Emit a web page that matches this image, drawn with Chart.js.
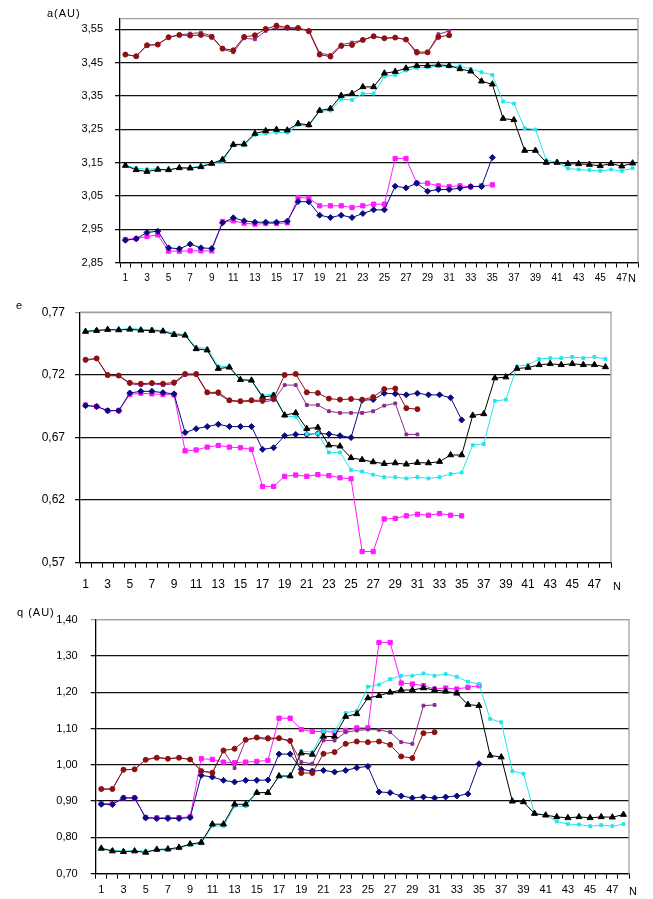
<!DOCTYPE html>
<html>
<head>
<meta charset="utf-8">
<script src="https://cdn.jsdelivr.net/npm/chart.js@4.4.1/dist/chart.umd.min.js"></script>
<style>
  html, body { margin: 0; padding: 0; background: #fff; }
  body { width: 653px; height: 899px; position: relative; overflow: hidden;
         font-family: 'Liberation Sans', Arial, sans-serif; }
  .panel { position: absolute; left: 0; width: 653px; }
  .lbl { position: absolute; font-size: 11px; color: #000; line-height: 12px;
         letter-spacing: 1px; white-space: nowrap; }
</style>
</head>
<body>
<div class="panel" style="top:0;height:295px"><canvas id="chartA"></canvas></div>
<div class="panel" style="top:295px;height:305px"><canvas id="chartE"></canvas></div>
<div class="panel" style="top:600px;height:299px"><canvas id="chartQ"></canvas></div>

<div class="lbl" style="left:47px;top:7px">a(AU)</div>
<div class="lbl" style="left:628px;top:272px">N</div>
<div class="lbl" style="left:16px;top:299px">e</div>
<div class="lbl" style="left:613px;top:580px">N</div>
<div class="lbl" style="left:17px;top:606px">q (AU)</div>
<div class="lbl" style="left:629px;top:885px">N</div>

<script>
// orbit number, shared by the three panels
const categories = [1, 2, 3, 4, 5, 6, 7, 8, 9, 10, 11, 12, 13, 14, 15, 16,
  17, 18, 19, 20, 21, 22, 23, 24, 25, 26, 27, 28, 29, 30, 31, 32, 33, 34, 35,
  36, 37, 38, 39, 40, 41, 42, 43, 44, 45, 46, 47, 48];

// y tick labels
const aTicks = [2.85, 2.95, 3.05, 3.15, 3.25, 3.35, 3.45, 3.55];
const eTicks = [0.57, 0.62, 0.67, 0.72, 0.77];
const qTicks = [0.7, 0.8, 0.9, 1.0, 1.1, 1.2, 1.3, 1.4];

// a (AU)
const aRed = [3.474, 3.469, 3.502, 3.504, 3.526, 3.533, 3.531, 3.533, 3.527, 3.492,
  3.487, 3.527, 3.532, 3.551, 3.561, 3.555, 3.554, 3.544, 3.474, 3.468, 3.500, 3.503,
  3.518, 3.529, 3.523, 3.525, 3.519, 3.482, 3.481, 3.527, 3.532];
const aPurple = [3.474, 3.469, 3.502, 3.505, 3.526, 3.533, 3.537, 3.540, 3.530, 3.490,
  3.481, 3.523, 3.520, 3.545, 3.555, 3.552, 3.552, 3.547, 3.478, 3.473, 3.504, 3.510,
  3.518, 3.528, 3.523, 3.525, 3.519, 3.477, 3.479, 3.535, 3.545];
const aBlack = [3.141, 3.128, 3.123, 3.129, 3.128, 3.134, 3.133, 3.137, 3.147, 3.159,
  3.204, 3.205, 3.237, 3.245, 3.249, 3.247, 3.267, 3.263, 3.306, 3.312, 3.351, 3.357,
  3.377, 3.377, 3.418, 3.423, 3.433, 3.441, 3.441, 3.443, 3.441, 3.431, 3.424, 3.394,
  3.385, 3.282, 3.278, 3.186, 3.186, 3.150, 3.150, 3.146, 3.146, 3.144, 3.140, 3.147,
  3.139, 3.148];
const aCyan = [3.142, 3.133, 3.130, 3.132, 3.127, 3.135, 3.135, 3.139, 3.149, 3.153,
  3.202, 3.202, 3.233, 3.237, 3.240, 3.240, 3.263, 3.260, 3.304, 3.306, 3.340, 3.338,
  3.357, 3.357, 3.408, 3.413, 3.426, 3.434, 3.436, 3.439, 3.438, 3.439, 3.431, 3.421,
  3.413, 3.333, 3.327, 3.253, 3.249, 3.157, 3.151, 3.132, 3.129, 3.127, 3.125, 3.129,
  3.125, 3.133];
const aNavy = [2.917, 2.921, 2.940, 2.944, 2.894, 2.891, 2.905, 2.894, 2.892, 2.969,
  2.984, 2.975, 2.971, 2.971, 2.971, 2.974, 3.033, 3.032, 2.992, 2.985, 2.992, 2.985,
  2.997, 3.008, 3.008, 3.079, 3.074, 3.088, 3.064, 3.069, 3.069, 3.073, 3.078, 3.078,
  3.165];
const aMagenta = [2.919, 2.922, 2.928, 2.933, 2.884, 2.884, 2.885, 2.885, 2.885, 2.973,
  2.975, 2.968, 2.965, 2.967, 2.967, 2.969, 3.045, 3.043, 3.020, 3.020, 3.020, 3.015,
  3.020, 3.025, 3.025, 3.162, 3.162, 3.088, 3.088, 3.080, 3.078, 3.080, 3.077, 3.080,
  3.083];

// e
const eRed = [0.7321, 0.7331, 0.7199, 0.7194, 0.7136, 0.7129, 0.7134, 0.7129, 0.7139,
  0.7207, 0.7207, 0.7060, 0.7060, 0.6997, 0.6990, 0.6997, 0.6997, 0.7010, 0.7199,
  0.7207, 0.7060, 0.7055, 0.7010, 0.7002, 0.7007, 0.7002, 0.7022, 0.7086, 0.7091,
  0.6934, 0.6926];
const ePurple = [0.7313, 0.7331, 0.7192, 0.7192, 0.7129, 0.7118, 0.7129, 0.7118, 0.7129,
  0.7200, 0.7200, 0.7055, 0.7048, 0.6992, 0.6984, 0.6990, 0.6984, 0.6997, 0.7118,
  0.7118, 0.6959, 0.6959, 0.6909, 0.6896, 0.6896, 0.6896, 0.6909, 0.6954, 0.6972,
  0.6724, 0.6724];
const eBlack = [0.7546, 0.7553, 0.7561, 0.7558, 0.7563, 0.7556, 0.7553, 0.7548, 0.7520,
  0.7515, 0.7407, 0.7397, 0.7250, 0.7260, 0.7161, 0.7156, 0.7022, 0.7035, 0.6878,
  0.6896, 0.6770, 0.6780, 0.6638, 0.6630, 0.6537, 0.6522, 0.6504, 0.6491, 0.6496,
  0.6486, 0.6499, 0.6496, 0.6507, 0.6560, 0.6560, 0.6876, 0.6888, 0.7174, 0.7182,
  0.7250, 0.7258, 0.7280, 0.7288, 0.7280, 0.7288, 0.7280, 0.7280, 0.7263];
const eCyan = [0.7548, 0.7558, 0.7563, 0.7561, 0.7571, 0.7563, 0.7561, 0.7553, 0.7533,
  0.7520, 0.7420, 0.7410, 0.7268, 0.7268, 0.7161, 0.7154, 0.7035, 0.7048, 0.6871,
  0.6866, 0.6727, 0.6732, 0.6580, 0.6580, 0.6441, 0.6428, 0.6403, 0.6383, 0.6383,
  0.6373, 0.6383, 0.6373, 0.6383, 0.6408, 0.6420, 0.6638, 0.6648, 0.6992, 0.7002,
  0.7268, 0.7280, 0.7326, 0.7333, 0.7333, 0.7343, 0.7333, 0.7343, 0.7326];
const eNavy = [0.6954, 0.6947, 0.6914, 0.6914, 0.7055, 0.7068, 0.7068, 0.7058, 0.7048,
  0.6739, 0.6770, 0.6787, 0.6805, 0.6787, 0.6787, 0.6787, 0.6605, 0.6618, 0.6714,
  0.6724, 0.6724, 0.6732, 0.6727, 0.6714, 0.6699, 0.6997, 0.7002, 0.7053, 0.7048,
  0.7040, 0.7053, 0.7040, 0.7040, 0.7017, 0.6840];
const eMagenta = [0.6959, 0.6947, 0.6914, 0.6914, 0.7043, 0.7053, 0.7048, 0.7043, 0.7040,
  0.6593, 0.6600, 0.6623, 0.6636, 0.6623, 0.6618, 0.6605, 0.6309, 0.6309, 0.6390,
  0.6400, 0.6390, 0.6403, 0.6395, 0.6378, 0.6370, 0.5789, 0.5789, 0.6049, 0.6054,
  0.6074, 0.6087, 0.6079, 0.6092, 0.6079, 0.6074];

// q (AU)
const qRed = [0.9334, 0.9334, 0.9865, 0.9874, 1.0139, 1.0194, 1.0167, 1.0194, 1.0148,
  0.9828, 0.9782, 1.0395, 1.0441, 1.0688, 1.0752, 1.0734, 1.0734, 1.0661, 0.9773,
  0.9773, 1.0304, 1.0350, 1.0578, 1.0642, 1.0624, 1.0642, 1.0551, 1.0230, 1.0185,
  1.0871, 1.0898];
const qPurple = [0.9334, 0.9325, 0.9865, 0.9874, 1.0139, 1.0212, 1.0167, 1.0194, 1.0148,
  0.9828, 0.9782, 1.0395, 0.9910, 1.0688, 1.0734, 1.0697, 1.0734, 1.0642, 1.0075,
  1.0030, 1.0670, 1.0670, 1.0898, 1.0944, 1.0972, 1.0963, 1.0898, 1.0624, 1.0578,
  1.1630, 1.1649];
const qBlack = [0.7696, 0.7623, 0.7605, 0.7623, 0.7586, 0.7668, 0.7678, 0.7724, 0.7815,
  0.7861, 0.8364, 0.8364, 0.8913, 0.8913, 0.9233, 0.9233, 0.9691, 0.9691, 1.0322,
  1.0285, 1.0780, 1.0780, 1.1329, 1.1402, 1.1841, 1.1905, 1.1996, 1.2060, 1.2060,
  1.2115, 1.2060, 1.2023, 1.1969, 1.1658, 1.1630, 1.0258, 1.0212, 0.8996, 0.8977,
  0.8657, 0.8611, 0.8565, 0.8538, 0.8565, 0.8538, 0.8565, 0.8556, 0.8629];
const qCyan = [0.7696, 0.7650, 0.7623, 0.7632, 0.7623, 0.7650, 0.7650, 0.7696, 0.7806,
  0.7833, 0.8318, 0.8309, 0.8858, 0.8858, 0.9233, 0.9233, 0.9682, 0.9682, 1.0377,
  1.0350, 1.0926, 1.0926, 1.1429, 1.1493, 1.2152, 1.2207, 1.2362, 1.2454, 1.2454,
  1.2518, 1.2454, 1.2500, 1.2426, 1.2289, 1.2225, 1.1264, 1.1173, 0.9828, 0.9755,
  0.8657, 0.8611, 0.8440, 0.8364, 0.8355, 0.8309, 0.8337, 0.8309, 0.8364];
const qNavy = [0.8913, 0.8904, 0.9087, 0.9087, 0.8538, 0.8520, 0.8520, 0.8520, 0.8547,
  0.9709, 0.9663, 0.9572, 0.9526, 0.9572, 0.9572, 0.9581, 1.0295, 1.0295, 0.9874,
  0.9828, 0.9846, 0.9801, 0.9846, 0.9920, 0.9956, 0.9252, 0.9233, 0.9142, 0.9087,
  0.9114, 0.9087, 0.9114, 0.9142, 0.9197, 1.0029];
const qMagenta = [0.8931, 0.8931, 0.9087, 0.9087, 0.8547, 0.8538, 0.8547, 0.8547, 0.8565,
  1.0167, 1.0148, 1.0075, 1.0057, 1.0075, 1.0093, 1.0120, 1.1283, 1.1283, 1.0972,
  1.0917, 1.0917, 1.0898, 1.0944, 1.1017, 1.1017, 1.3369, 1.3369, 1.2253, 1.2225,
  1.2179, 1.2088, 1.2115, 1.2088, 1.2134, 1.2179];

// marker / colour per series (first one is drawn on top)
const SERIES_STYLE = [
  {color: '#8c1212', pointStyle: 'circle', radius: 2.5},
  {color: '#8e2a8e', pointStyle: 'rect', radius: 2},
  {color: '#000000', pointStyle: 'triangle', radius: 3.5},
  {color: '#22e6ee', pointStyle: 'rect', radius: 2},
  {color: '#0a0a80', pointStyle: 'rectRot', radius: 3},
  {color: '#ff1aff', pointStyle: 'rect', radius: 3},
];

const GRID_GRAY = '#a0a0a0';

// top and right frame of the plot area
const framePlugin = {
  id: 'frame',
  afterDraw(chart) {
    const {ctx, chartArea: a} = chart;
    ctx.save();
    ctx.strokeStyle = GRID_GRAY;
    ctx.lineWidth = 1.3;
    ctx.beginPath();
    ctx.moveTo(a.left, a.top);
    ctx.lineTo(a.right, a.top);
    ctx.lineTo(a.right, a.bottom);
    ctx.stroke();
    ctx.restore();
  },
};

function buildDatasets(seriesList) {
  return seriesList.map((data, i) => {
    const s = SERIES_STYLE[i];
    return {
      data: data,
      borderColor: s.color,
      backgroundColor: s.color,
      borderWidth: 1,
      pointStyle: s.pointStyle,
      pointRadius: s.radius,
      pointBorderWidth: 1,
      tension: 0,
    };
  });
}

function makePanel(id, p) {
  const canvas = document.getElementById(id);
  canvas.width = 653;
  canvas.height = p.height;
  canvas.style.width = '653px';
  canvas.style.height = p.height + 'px';
  return new Chart(canvas.getContext('2d'), {
    type: 'line',
    data: {labels: categories, datasets: buildDatasets(p.series)},
    plugins: [framePlugin],
    options: {
      responsive: false,
      animation: false,
      layout: {padding: {top: p.top, right: p.right, left: 0, bottom: 0}},
      plugins: {legend: {display: false}, tooltip: {enabled: false}},
      scales: {
        x: {
          type: 'category',
          offset: true,
          grid: {offset: true, drawOnChartArea: false, drawTicks: true,
                 tickLength: 5, color: '#000', lineWidth: 1},
          border: {color: '#000', width: 1.3},
          ticks: {
            autoSkip: false,
            maxRotation: 0,
            padding: p.xPad,
            color: '#000',
            font: {family: 'Liberation Sans', size: p.xFont},
            callback: (v, i) => (i % 2 === 0 ? String(categories[i]) : ''),
          },
          afterFit: (s) => { s.height = p.xHeight; },
        },
        y: {
          min: p.min,
          max: p.max,
          afterBuildTicks: (s) => { s.ticks = p.ticks.map((v) => ({value: v})); },
          grid: {
            color: (c) => (c.tick && c.tick.value >= p.max - 1e-9 ? GRID_GRAY : '#111'),
            lineWidth: 1.3,
            tickLength: 5,
          },
          border: {color: '#000', width: 1.3},
          ticks: {
            padding: p.yPad,
            color: '#000',
            font: {family: 'Liberation Sans', size: p.yFont},
            callback: (v) => Number(v).toFixed(2).replace('.', ','),
          },
          afterFit: (s) => { s.width = p.yWidth; },
        },
      },
    },
  });
}

makePanel('chartA', {
  height: 295, top: 12, right: 15, yWidth: 120, xHeight: 32.5,
  min: 2.85, max: 3.582, ticks: aTicks, yPad: 12, xPad: 5, xFont: 10, yFont: 11,
  series: [aRed, aPurple, aBlack, aCyan, aNavy, aMagenta],
});
makePanel('chartE', {
  height: 305, top: 9, right: 42, yWidth: 80, xHeight: 37.3,
  min: 0.57, max: 0.77, ticks: eTicks, yPad: 10, xPad: 10, xFont: 12, yFont: 12,
  series: [eRed, ePurple, eBlack, eCyan, eNavy, eMagenta],
});
makePanel('chartQ', {
  height: 299, top: 18.7, right: 24, yWidth: 95.7, xHeight: 25.3,
  min: 0.7, max: 1.4, ticks: qTicks, yPad: 13, xPad: 5, xFont: 11, yFont: 11,
  series: [qRed, qPurple, qBlack, qCyan, qNavy, qMagenta],
});
</script>
</body>
</html>
